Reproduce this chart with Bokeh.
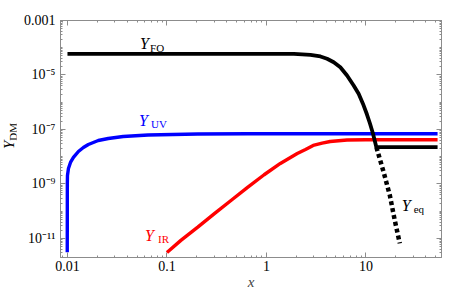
import math
from bokeh.plotting import figure
from bokeh.layouts import row
from bokeh.models import (LogAxis, FixedTicker, CustomJSTickFormatter, Label, Range1d, Div)
from bokeh.embed import file_html
from bokeh.resources import INLINE

# ---- data ----
fo_x = [0.01, 1.29, 1.89, 2.77, 3.49, 4.07, 4.75, 5.53, 6.46, 7.53, 8.45, 9.33, 10.23, 10.96, 11.75, 12.74, 52.5]
fo_y = [6.0e-5, 6.0e-5, 6.0e-5, 5.5e-5, 4.78e-5, 3.93e-5, 2.95e-5, 1.93e-5, 9.6e-6, 4.12e-6,
        2.04e-6, 8.85e-7, 3.61e-7, 1.69e-7, 7.26e-8, 2.24e-8, 2.24e-8]

eq_x = [12.74, 15.1, 17.4, 19.5, 21.9]
eq_y = [2.24e-8, 2.64e-9, 3.8e-10, 4.6e-11, 6.6e-12]

uv_x = [0.00995, 0.00997, 0.01, 0.01023, 0.01072, 0.01148, 0.01288, 0.01445, 0.01622, 0.0204,
        0.0257, 0.0363, 0.0646, 0.204, 0.646, 52.5]
uv_y = [3.1e-12, 1.0e-9, 2.05e-9, 3.7e-9, 6.15e-9, 9.4e-9, 1.56e-8, 2.18e-8, 2.82e-8, 3.95e-8,
        4.67e-8, 5.53e-8, 6.28e-8, 6.84e-8, 6.99e-8, 7.0e-8]

ir_x = [0.1, 0.138, 0.204, 0.302, 0.44, 0.646, 0.948, 1.38, 2.04, 2.47, 2.95, 3.63, 4.37, 6.46, 10.0, 52.5]
ir_y = [3.06e-12, 8.5e-12, 2.6e-11, 8.3e-11, 2.48e-10, 7.45e-10, 2.18e-9, 5.65e-9, 1.31e-8, 1.85e-8,
        2.59e-8, 3.14e-8, 3.63e-8, 4.1e-8, 4.19e-8, 4.19e-8]

x_ticks = [0.01, 0.1, 1, 10]
x_tick_labels = ["0.01", "0.1", "1", "10"]
y_ticks = [1e-11, 1e-9, 1e-7, 1e-5, 1e-3]
y_tick_labels = ["10\u207b\u00b9\u00b9", "10\u207b\u2079", "10\u207b\u2077", "10\u207b\u2075", "0.001"]

FONT = "Liberation Serif"
GRAY = "#8c8c8c"
DIV_W = 16

p = figure(width=444 - DIV_W, height=292, x_axis_type="log", y_axis_type="log",
           x_range=Range1d(0.00851, 57.5), y_range=Range1d(2.0e-12, 1e-3),
           output_backend="svg", toolbar_location=None,
           min_border_left=60 - DIV_W, min_border_right=3, min_border_top=20, min_border_bottom=35)
p.xgrid.visible = False
p.ygrid.visible = False
p.outline_line_color = GRAY
p.background_fill_color = "white"
p.border_fill_color = "white"

def minor_decades(lo, hi):
    out = []
    for k in range(lo, hi):
        for m in range(1, 10):
            out.append(m * 10.0 ** k)
    return out

x_minor = minor_decades(-3, 2)
y_minor = minor_decades(-12, -2)

fmt_code = """
let best = 0, bd = Infinity;
for (let i = 0; i < vals.length; i++) {
  const d = Math.abs(Math.log10(tick) - Math.log10(vals[i]));
  if (d < bd) { bd = d; best = i; }
}
return labs[best];
"""

def style_axis(ax, ticks, minor, labels, show_labels):
    ax.ticker = FixedTicker(ticks=ticks, minor_ticks=minor)
    if show_labels:
        ax.formatter = CustomJSTickFormatter(args=dict(vals=ticks, labs=labels), code=fmt_code)
        ax.major_label_text_font_size = "14px"
    else:
        ax.formatter = CustomJSTickFormatter(code="return '';")
        ax.major_label_text_font_size = "1px"
        ax.major_label_standoff = 0
    ax.axis_line_color = GRAY
    ax.major_tick_line_color = GRAY
    ax.minor_tick_line_color = GRAY
    ax.major_tick_in = 5
    ax.major_tick_out = 0
    ax.minor_tick_in = 2
    ax.minor_tick_out = 0
    ax.major_label_text_font = FONT
    ax.major_label_text_color = "black"

style_axis(p.xaxis[0], x_ticks, x_minor, x_tick_labels, True)
style_axis(p.yaxis[0], y_ticks, y_minor, y_tick_labels, True)
p.xaxis[0].major_label_standoff = 3
p.yaxis[0].major_label_standoff = 5
p.xaxis[0].axis_label = "x"
p.xaxis[0].axis_label_text_font = FONT
p.xaxis[0].axis_label_text_font_style = "italic"
p.xaxis[0].axis_label_text_font_size = "15px"
p.xaxis[0].axis_label_standoff = 0

top = LogAxis()
style_axis(top, x_ticks, x_minor, x_tick_labels, False)
p.add_layout(top, "above")
right = LogAxis()
style_axis(right, y_ticks, y_minor, y_tick_labels, False)
p.add_layout(right, "right")

# ---- curves ----
p.line(uv_x, uv_y, line_color="#0000ff", line_width=3.4)
p.line(ir_x, ir_y, line_color="#ff0000", line_width=3.4)
p.line(fo_x, fo_y, line_color="black", line_width=3.8)
p.line(eq_x, eq_y, line_color="black", line_width=4.5, line_dash="4 3", line_cap="butt")

# ---- curve labels ----
def ylabel(x, y, sub, color, dx, dy=-4):
    p.add_layout(Label(x=x, y=y, text="Y", text_color=color, text_font=FONT,
                       text_font_style="italic", text_font_size="16px",
                       text_baseline="alphabetic", text_align="left"))
    p.add_layout(Label(x=x, y=y, text=sub, text_color=color, text_font=FONT,
                       text_font_size="11px", text_baseline="alphabetic",
                       text_align="left", x_offset=dx, y_offset=dy))

ylabel(0.0537, 1.43e-4, "FO", "black", 10)
ylabel(0.0525, 2.14e-7, "UV", "#0000ff", 12)
ylabel(0.0603, 1.29e-11, "IR", "#ff0000", 13)
ylabel(22.9, 1.62e-10, "eq", "black", 12, -3)

# ---- rotated y axis label Y_DM ----
ylab = Div(width=DIV_W, height=292, margin=0, text=(
    '<div style="position:absolute; left:9px; top:136px; '
    'transform: translate(-50%, -50%) rotate(-90deg); white-space:nowrap; '
    "font-family:'Liberation Serif', serif; font-size:15px; color:black; line-height:1;\">"
    '<i>Y</i><span style="font-size:11px; position:relative; top:3px;">DM</span></div>'))

layout = row(ylab, p, spacing=0)
open("out.html", "w").write(file_html(layout, INLINE))
